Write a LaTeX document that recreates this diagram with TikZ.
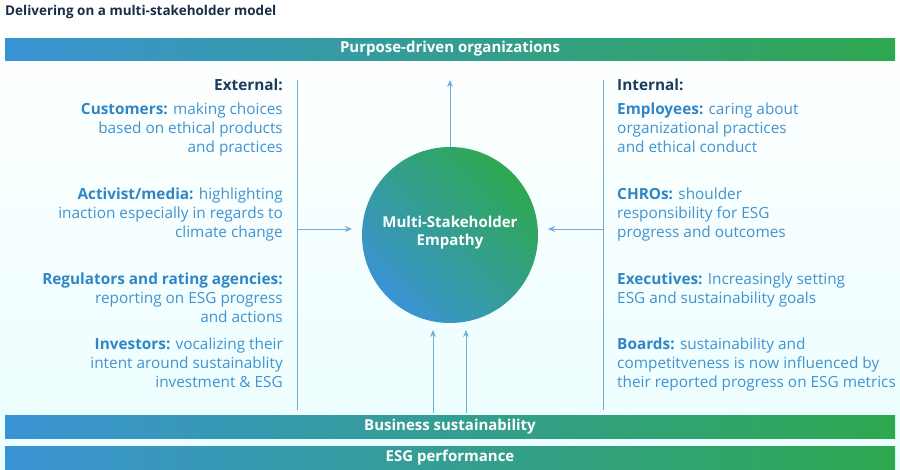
\documentclass[tikz,border=0pt]{standalone}
\usepackage{fontspec}
\setmainfont{Open Sans}
\usetikzlibrary{arrows.meta}
\definecolor{gblue}{HTML}{3A93D4}
\definecolor{ggreen}{HTML}{2EA84F}
\definecolor{lbl}{HTML}{2F86C6}
\definecolor{txt}{HTML}{4193CF}
\definecolor{head}{HTML}{1E3A5C}
\definecolor{ln}{HTML}{6FAEDC}
\tikzset{
 bar/.style={left color=gblue,right color=ggreen,draw=none},
 bartext/.style={text=white,font=\fontsize{12.8}{14}\selectfont\bfseries},
 lt/.style={anchor=north east,align=right,text=txt,inner sep=0pt,font=\fontsize{13.1}{16.2}\selectfont},
 rt/.style={anchor=north west,align=left,text=txt,inner sep=0pt,font=\fontsize{13.1}{16.2}\selectfont},
 arr/.style={draw=ln,line width=0.8pt,-{Stealth[length=6pt,width=5pt]}},
}
\begin{document}
\begin{tikzpicture}[x=0.03cm,y=-0.03cm]
\useasboundingbox (0,0) rectangle (900,469);
\fill[top color=white,bottom color=blue!6!cyan!8] (0,25) rectangle (900,469);
\node[anchor=west,text=head!80!black,font=\fontsize{11.5}{13}\selectfont\bfseries,inner sep=0pt] (title) at (5,12) {Delivering on a multi-stakeholder model};
\path[bar] (5,38) rectangle (895,60);
\node[bartext] (top) at (450,49) {Purpose-driven organizations};
\path[bar] (5,415) rectangle (895,438);
\node[bartext] (bs) at (450,427) {Business sustainability};
\path[bar] (5,446) rectangle (895,469);
\node[bartext] (esg) at (450,458) {ESG performance};
\draw[ln,line width=0.8pt] (297,80) -- (297,410);
\draw[ln,line width=0.8pt] (603,80) -- (603,410);
\shade[left color=gblue,right color=ggreen,shading angle=135] (450,235) circle[radius=88];
\node[circle,minimum size=5.28cm,inner sep=0pt] (c) at (450,235) {};
\node[text=white,align=center,font=\fontsize{12.8}{15.5}\selectfont\bfseries] at (450,233) {Multi-Stakeholder\\Empathy};
\coordinate (ut) at (450,80);
\coordinate (la) at (297,229);
\coordinate (ra) at (603,229);
\coordinate (b1) at (433,413);
\coordinate (b2) at (466,413);
\draw[arr] (c.north) -- (ut);
\draw[arr] (la) -- (352,229);
\draw[arr] (ra) -- (548,229);
\draw[arr] (b1) -- (433,330);
\draw[arr] (b2) -- (466,330);
\node[lt,text=head] (ext) at (283,79) {\bfseries External:};
\node[lt] (cu) at (283,103) {\textcolor{lbl}{\bfseries Customers:} making choices\\based on ethical products\\and practices};
\node[lt] (ac) at (283,188) {\textcolor{lbl}{\bfseries Activist/media:} highlighting\\inaction especially in regards to\\climate change};
\node[lt] (re) at (283,273) {\textcolor{lbl}{\bfseries Regulators and rating agencies:}\\reporting on ESG progress\\and actions};
\node[lt] (in) at (283,338) {\textcolor{lbl}{\bfseries Investors:} vocalizing their\\intent around sustainablity\\investment \& ESG};
\node[rt,text=head] (int) at (617,79) {\bfseries Internal:};
\node[rt] (em) at (617,103) {\textcolor{lbl}{\bfseries Employees:} caring about\\organizational practices\\and ethical conduct};
\node[rt] (ch) at (617,188) {\textcolor{lbl}{\bfseries CHROs:} shoulder\\responsibility for ESG\\progress and outcomes};
\node[rt] (ex) at (617,273) {\textcolor{lbl}{\bfseries Executives:} Increasingly setting\\ESG and sustainability goals};
\node[rt] (bo) at (617,338) {\textcolor{lbl}{\bfseries Boards:} sustainability and\\competitveness is now influenced by\\their reported progress on ESG metrics};
\end{tikzpicture}
\end{document}
